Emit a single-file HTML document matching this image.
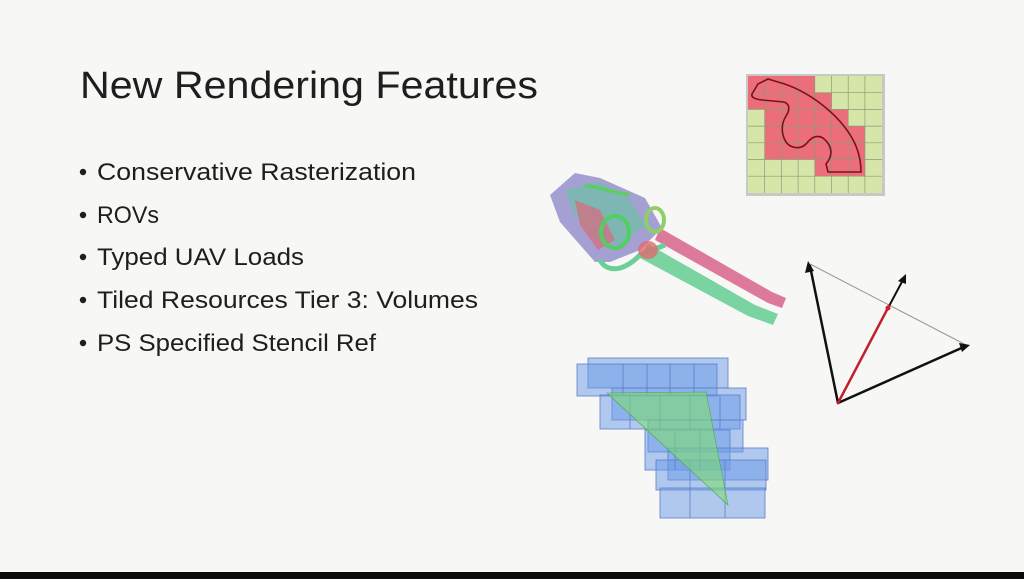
<!DOCTYPE html>
<html><head><meta charset="utf-8"><style>
html,body{margin:0;padding:0;background:#f7f7f5;}
svg{display:block;}
</style></head><body>
<svg width="1024" height="579" viewBox="0 0 1024 579" xmlns="http://www.w3.org/2000/svg">
<rect width="1024" height="579" fill="#f7f7f5"/>
<rect x="0" y="572" width="1024" height="7" fill="#0a0a0a"/>
<g font-family="Liberation Sans, sans-serif" fill="#1e1e1e">
<text x="80" y="98" font-size="38" textLength="458" lengthAdjust="spacingAndGlyphs">New Rendering Features</text>
<g font-size="24">
<circle cx="83" cy="172" r="3.2"/><text x="97" y="180" textLength="319" lengthAdjust="spacingAndGlyphs">Conservative Rasterization</text>
<circle cx="83" cy="215" r="3.2"/><text x="97" y="223" textLength="62" lengthAdjust="spacingAndGlyphs">ROVs</text>
<circle cx="83" cy="257" r="3.2"/><text x="97" y="265" textLength="207" lengthAdjust="spacingAndGlyphs">Typed UAV Loads</text>
<circle cx="83" cy="300" r="3.2"/><text x="97" y="308" textLength="381" lengthAdjust="spacingAndGlyphs">Tiled Resources Tier 3: Volumes</text>
<circle cx="83" cy="343" r="3.2"/><text x="97" y="351" textLength="279" lengthAdjust="spacingAndGlyphs">PS Specified Stencil Ref</text>
</g></g>
<!-- grid -->
<g transform="translate(748,76)">
<rect x="-2" y="-2" width="139" height="122" fill="#999" opacity="0.5"/>
<rect width="134" height="117" fill="#d6e6a8"/>
<g fill="#ec6e7a">
<rect x="0" y="0" width="67" height="16.7"/>
<rect x="0" y="16.7" width="83.7" height="16.7"/>
<rect x="16.7" y="33.4" width="83.7" height="16.7"/>
<rect x="16.7" y="50.1" width="100.4" height="33.4"/>
<rect x="67" y="83.5" width="50.2" height="16.7"/>
</g>
<g stroke="#8a9a7a" stroke-width="0.7" fill="none">
<path d="M16.7 0V117M33.4 0V117M50.1 0V117M66.8 0V117M83.5 0V117M100.2 0V117M116.9 0V117M0 16.7H134M0 33.4H134M0 50.1H134M0 66.8H134M0 83.5H134M0 100.2H134"/>
</g>
<path d="M4 18 L10 8 L20 3 L30 6 C60 14 95 40 108 70 C112 80 113 88 113 96 L80 96 L78 88 C85 80 85 70 75 62 C68 58 63 62 58 68 C52 74 42 72 38 66 C33 58 33 48 38 40 C42 34 42 28 36 26 L14 24 C6 23 3 21 4 18Z" fill="none" stroke="#7a1020" stroke-width="1.6"/>
</g>
<!-- engine -->
<g>
<path d="M660 228 L772 292 L786 298 L782 308 L768 303 L655 240Z" fill="#d96a90" opacity="0.9"/>
<path d="M648 244 L755 305 L778 314 L773 325 L748 316 L640 258Z" fill="#6ccf98" opacity="0.9"/>
<path d="M550 195 L575 173 L600 178 L645 198 L662 228 L640 250 L610 262 L595 262 L560 222 Z" fill="#8f8ac8" opacity="0.8"/>
<path d="M565 190 L600 182 L630 200 L645 225 L620 245 L595 240 L575 215Z" fill="#6dbfa8" opacity="0.7"/>
<path d="M575 200 L600 210 L615 240 L598 250 L580 225Z" fill="#d96a7a" opacity="0.7"/>
<ellipse cx="615" cy="232" rx="14" ry="16" fill="none" stroke="#4fd060" stroke-width="4"/>
<ellipse cx="655" cy="220" rx="9" ry="12" fill="none" stroke="#8fcf6a" stroke-width="4"/>
<path d="M600 260 C605 270 620 275 640 255 L665 245" fill="none" stroke="#6ccf98" stroke-width="5"/>
<ellipse cx="648" cy="250" rx="10" ry="9" fill="#e06a70" opacity="0.8"/>
<path d="M585 185 L630 195" stroke="#5ad05a" stroke-width="3"/>
</g>
<!-- vectors -->
<g stroke-linecap="round">
<line x1="810" y1="264" x2="968" y2="346" stroke="#999" stroke-width="1"/>
<line x1="838" y1="403" x2="810" y2="266" stroke="#111" stroke-width="2.5"/>
<line x1="838" y1="403" x2="966" y2="346" stroke="#111" stroke-width="2.5"/>
<line x1="888" y1="308" x2="904" y2="278" stroke="#111" stroke-width="2"/>
<line x1="838" y1="403" x2="889" y2="306" stroke="#c0202a" stroke-width="2.5"/>
<path d="M808 261 L805 273 L814 271Z" fill="#111"/>
<path d="M970 345 L959 343 L962 352Z" fill="#111"/>
<path d="M906 274 L898 281 L906 284Z" fill="#111"/>
<circle cx="888" cy="308" r="2.5" fill="#d02030"/>
</g>
<!-- cubes -->
<g fill="#6a9ae8" fill-opacity="0.5" stroke="#5a7ec8" stroke-width="0.8">
<rect x="588" y="358" width="140" height="30"/>
<rect x="577" y="364" width="140" height="32"/>
<rect x="612" y="388" width="134" height="32"/>
<rect x="600" y="395" width="140" height="34"/>
<rect x="648" y="420" width="95" height="32"/>
<rect x="645" y="430" width="85" height="40"/>
<rect x="668" y="448" width="100" height="32"/>
<rect x="656" y="460" width="110" height="30"/>
<rect x="660" y="488" width="105" height="30"/>
<path d="M623 364V396M647 364V396M670 364V396M694 364V396M630 395V429M660 395V429M690 395V429M720 395V429M675 430V470M700 430V470M690 460V518M725 460V518" fill="none"/>
</g>
<path d="M607 393 L706 392 L728 505Z" fill="#7ee06a" fill-opacity="0.55" stroke="#4aa84a" stroke-width="0.6"/>
</svg>
</body></html>
